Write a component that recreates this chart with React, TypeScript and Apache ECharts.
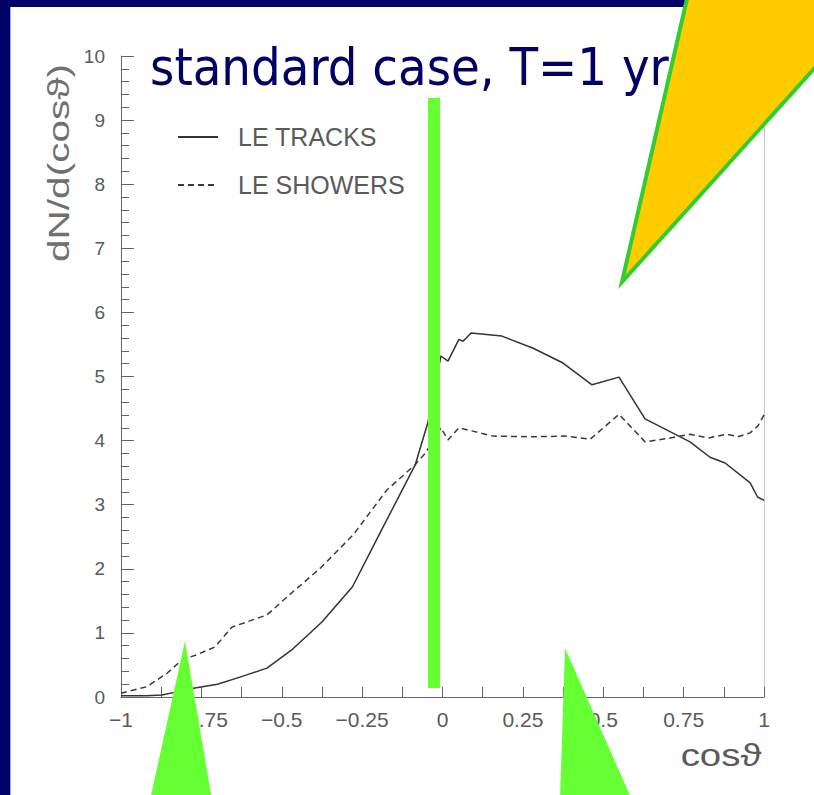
import React, { useEffect, useRef } from "react";
import * as echarts from "echarts";

// ---- data ----
const TRACKS_X = [-1, -0.92, -0.873, -0.826, -0.77, -0.7, -0.63, -0.546, -0.47, -0.375, -0.28, -0.185, -0.085, -0.045, -0.005, 0.017, 0.051, 0.064, 0.089, 0.185, 0.282, 0.375, 0.465, 0.549, 0.63, 0.77, 0.832, 0.879, 0.957, 0.98, 1.0];
const TRACKS_Y = [0.02, 0.02, 0.03, 0.08, 0.14, 0.2, 0.31, 0.45, 0.73, 1.17, 1.72, 2.65, 3.62, 4.29, 5.32, 5.24, 5.58, 5.55, 5.68, 5.63, 5.44, 5.21, 4.87, 4.99, 4.34, 3.98, 3.74, 3.65, 3.34, 3.12, 3.07];

const SHOWERS_X = [-1, -0.92, -0.857, -0.81, -0.764, -0.708, -0.655, -0.546, -0.484, -0.38, -0.278, -0.173, -0.086, -0.054, -0.005, 0.017, 0.051, 0.157, 0.282, 0.387, 0.459, 0.549, 0.63, 0.708, 0.77, 0.826, 0.885, 0.919, 0.957, 0.981, 1.0];
const SHOWERS_Y = [0.06, 0.16, 0.37, 0.58, 0.66, 0.78, 1.09, 1.28, 1.56, 2.01, 2.53, 3.23, 3.62, 3.8, 4.2, 4.01, 4.2, 4.07, 4.06, 4.07, 4.02, 4.41, 3.98, 4.04, 4.1, 4.04, 4.1, 4.06, 4.12, 4.23, 4.4];

const SERIES_NAMES = ["LE TRACKS", "LE SHOWERS"];
const TITLE = "standard case, T=1 yr";
const Y_NAME = "dN/d(cosϑ)";
const X_NAME = "cosϑ";
const X_MIN = -1, X_MAX = 1, X_STEP = 0.25;
const Y_MIN = 0, Y_MAX = 10, Y_STEP = 1;

const NAVY = "#000066";
const GREEN = "#66ff33";
const AXIS_GRAY = "#666";
const LABEL_GRAY = "#5a5a5a";
const LINE = "#333";

const zip = (xs: number[], ys: number[]) => xs.map((x, i) => [x, ys[i]]);

const fmtX = (v: number) => {
  if (v < 0) return "\u2212" + String(Math.abs(v));
  return String(v);
};

export default function App() {
  const ref = useRef<HTMLDivElement>(null);
  useEffect(() => {
    if (!ref.current) return;
    const chart = echarts.init(ref.current, null, { renderer: "svg" });
    const font = "'Liberation Sans', 'DejaVu Sans', Arial, sans-serif";
    chart.setOption({
      animation: false,
      backgroundColor: "#ffffff",
      textStyle: { fontFamily: font },
      grid: { left: 121, right: 50, top: 56, bottom: 98, containLabel: false },
      legend: {
        orient: "vertical",
        left: 177,
        top: 122,
        itemWidth: 40,
        itemHeight: 14,
        itemGap: 18,
        padding: 0,
        itemStyle: { opacity: 0 },
        textStyle: { fontSize: 25, color: LABEL_GRAY, fontFamily: font, lineHeight: 30, padding: [0, 0, 0, 15] },
        data: SERIES_NAMES,
      },
      xAxis: {
        type: "value",
        min: X_MIN,
        max: X_MAX,
        interval: X_STEP,
        axisLine: { show: true, onZero: false, lineStyle: { color: AXIS_GRAY, width: 1 } },
        axisTick: { show: true, inside: true, length: 10, lineStyle: { color: AXIS_GRAY } },
        minorTick: { show: true, splitNumber: 2, length: 10, lineStyle: { color: AXIS_GRAY } },
        splitLine: { show: false },
        axisLabel: { fontSize: 21, color: LABEL_GRAY, margin: 12, formatter: fmtX, fontFamily: font },
      },
      yAxis: [
        {
          type: "value",
          min: Y_MIN,
          max: Y_MAX,
          interval: Y_STEP,
          axisLine: { show: true, onZero: false, lineStyle: { color: AXIS_GRAY, width: 1 } },
          axisTick: { show: true, inside: true, length: 13, lineStyle: { color: AXIS_GRAY } },
          minorTick: { show: true, splitNumber: 5, length: 8, lineStyle: { color: AXIS_GRAY } },
          splitLine: { show: false },
          axisLabel: { fontSize: 19, color: LABEL_GRAY, margin: 16, fontFamily: font },
        },
        {
          type: "value",
          position: "right",
          min: Y_MIN,
          max: Y_MAX,
          interval: Y_STEP,
          axisLine: { show: true, onZero: false, lineStyle: { color: "#c8c8c8", width: 1 } },
          axisTick: { show: false },
          axisLabel: { show: false },
          splitLine: { show: false },
        },
      ],
      series: [
        {
          name: SERIES_NAMES[0],
          type: "line",
          symbol: "none",
          data: zip(TRACKS_X, TRACKS_Y),
          lineStyle: { color: LINE, width: 1.5, type: "solid" },
          itemStyle: { color: LINE },
        },
        {
          name: SERIES_NAMES[1],
          type: "line",
          symbol: "none",
          data: zip(SHOWERS_X, SHOWERS_Y),
          lineStyle: { color: "#3a3a3a", width: 1.5, type: [6, 4] },
          itemStyle: { color: "#3a3a3a" },
        },
      ],
      graphic: [
        // navy frame (top + left)
        { type: "rect", z: 90, shape: { x: 0, y: 0, width: 814, height: 7 }, style: { fill: NAVY } },
        { type: "rect", z: 90, shape: { x: 0, y: 0, width: 10, height: 795 }, style: { fill: NAVY } },
        { type: "rect", z: 90, shape: { x: 10, y: 7, width: 1, height: 788 }, style: { fill: "#8fb4e8" } },
        // title
        {
          type: "text",
          z: 50,
          x: 150,
          y: 67,
          style: {
            text: TITLE,
            fill: NAVY,
            font: "52px 'DejaVu Sans Condensed', 'DejaVu Sans', sans-serif",
            textAlign: "left",
            textVerticalAlign: "middle",
          },
        },
        // y axis name
        {
          type: "text",
          z: 50,
          x: 59,
          y: 163,
          rotation: Math.PI / 2,
          scaleX: 1.4,
          style: {
            text: Y_NAME,
            fill: "#707070",
            font: "29px " + font,
            textAlign: "center",
            textVerticalAlign: "middle",
          },
        },
        // x axis name
        {
          type: "text",
          z: 50,
          x: 721,
          y: 755,
          scaleX: 1.2,
          style: {
            text: X_NAME,
            fill: "#5a5a5a",
            font: "32px " + font,
            textAlign: "center",
            textVerticalAlign: "middle",
          },
        },
        // green vertical bar
        { type: "rect", z: 100, shape: { x: 428, y: 98, width: 12, height: 590 }, style: { fill: GREEN } },
        // green triangles at bottom
        { type: "polygon", z: 100, shape: { points: [[185, 641], [150, 800], [212, 800]] }, style: { fill: GREEN } },
        { type: "polygon", z: 100, shape: { points: [[565, 648], [560, 800], [632, 800]] }, style: { fill: GREEN } },
        // yellow callout triangle
        {
          type: "polygon",
          z: 110,
          shape: { points: [[622, 282], [689, -10], [840, -10], [840, 40]] },
          style: { fill: "#ffcc00", stroke: "#33cc33", lineWidth: 4, lineJoin: "miter" },
        },
      ],
    });
    return () => chart.dispose();
  }, []);
  return (
    <div
      ref={ref}
      style={{ position: "fixed", left: 0, top: 0, width: 814, height: 795, background: "#fff" }}
    />
  );
}
